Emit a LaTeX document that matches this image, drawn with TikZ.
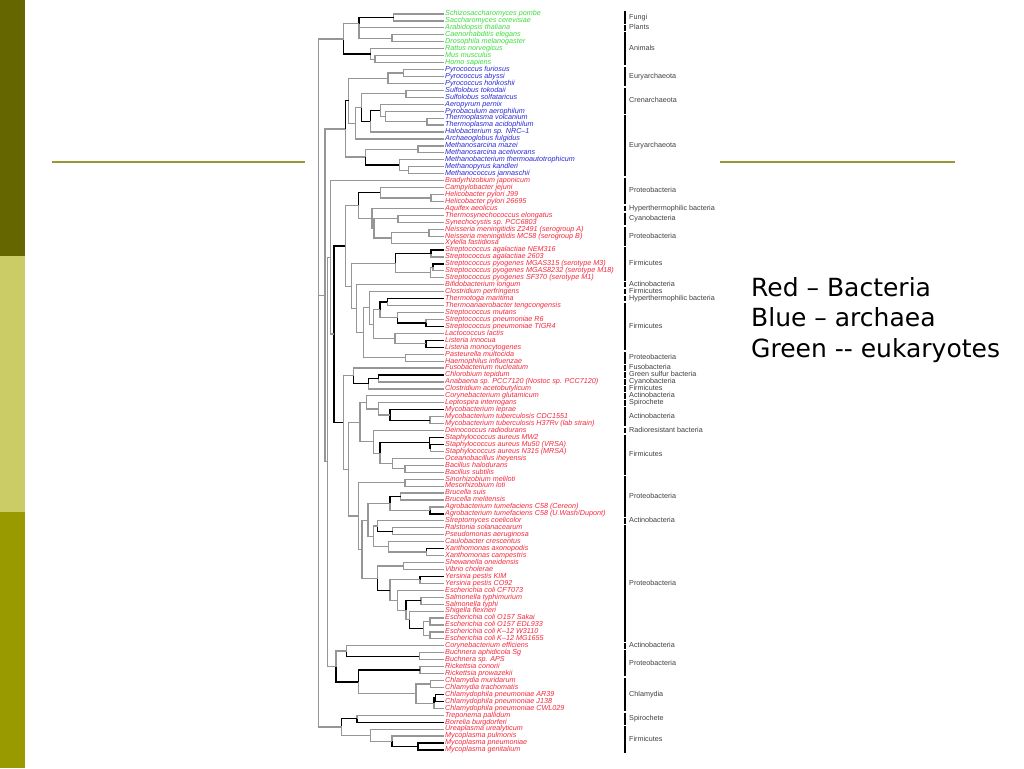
\documentclass[tikz,border=0pt]{standalone}
\usepackage{fontspec}
\newfontfamily\lab{Liberation Sans}
\newfontfamily\dv{DejaVu Sans}
\definecolor{gG}{RGB}{60,220,60}
\definecolor{bB}{RGB}{40,40,215}
\definecolor{rR}{RGB}{245,40,60}
\definecolor{lgray}{RGB}{150,150,150}
\definecolor{olD}{RGB}{102,102,0}
\definecolor{olL}{RGB}{204,204,102}
\definecolor{olM}{RGB}{153,153,0}
\definecolor{olLine}{RGB}{153,153,51}
\newcommand{\ly}[1]{14+(#1-1)*6.943}
\newcommand{\ed}[3]{\draw[#1] (#2) |- (#3);}
\begin{document}
\begin{tikzpicture}[x=1pt,y=-1pt,
 g/.style={draw=lgray,line width=1.2pt},
 k/.style={draw=black,line width=1.3pt},
 lf/.style={anchor=west,inner xsep=1pt,inner ysep=0pt,text height=5.2pt,text depth=1.5pt,font=\lab\itshape\fontsize{7.2}{7.2}\selectfont},
 lg/.style={lf,text=gG}, lb/.style={lf,text=bB}, lr/.style={lf,text=rR},
 grp/.style={anchor=west,inner sep=0pt,text height=5.2pt,text depth=1.5pt,font=\lab\fontsize{7.2}{7.2}\selectfont,text=black!75},
 bar/.style={line width=2pt,black},
 big/.style={anchor=base west,inner sep=0pt,font=\dv\fontsize{25}{30}\selectfont},
 deco/.style={draw=olLine,line width=2pt}]
\fill[white] (0,0) rectangle (1024,768);
\useasboundingbox (0,0) rectangle (1024,768);
% slide decoration
\fill[olD] (0,0) rectangle (25,256);
\fill[olL] (0,256) rectangle (25,512);
\fill[olM] (0,512) rectangle (25,768);
\draw[deco] (52,161.5) -- (305,161.5);
\draw[deco] (720,161.5) -- (955,161.5);
% legend text
\node[big] (t1) at (751,296) {Red – Bacteria};
\node[big] (t2) at (751,326.5) {Blue – archaea};
\node[big] (t3) at (751,357) {Green -{}- eukaryotes};
% leaves
\node[lg] (l1) at (444,{\ly{1}}) {Schizosaccharomyces pombe};
\node[lg] (l2) at (444,{\ly{2}}) {Saccharomyces cerevisiae};
\node[lg] (l3) at (444,{\ly{3}}) {Arabidopsis thaliana};
\node[lg] (l4) at (444,{\ly{4}}) {Caenorhabditis elegans};
\node[lg] (l5) at (444,{\ly{5}}) {Drosophila melanogaster};
\node[lg] (l6) at (444,{\ly{6}}) {Rattus norvegicus};
\node[lg] (l7) at (444,{\ly{7}}) {Mus musculus};
\node[lg] (l8) at (444,{\ly{8}}) {Homo sapiens};
\node[lb] (l9) at (444,{\ly{9}}) {Pyrococcus furiosus};
\node[lb] (l10) at (444,{\ly{10}}) {Pyrococcus abyssi};
\node[lb] (l11) at (444,{\ly{11}}) {Pyrococcus horikoshii};
\node[lb] (l12) at (444,{\ly{12}}) {Sulfolobus tokodaii};
\node[lb] (l13) at (444,{\ly{13}}) {Sulfolobus solfataricus};
\node[lb] (l14) at (444,{\ly{14}}) {Aeropyrum pernix};
\node[lb] (l15) at (444,{\ly{15}}) {Pyrobaculum aerophilum};
\node[lb] (l16) at (444,{\ly{16}}) {Thermoplasma volcanium};
\node[lb] (l17) at (444,{\ly{17}}) {Thermoplasma acidophilum};
\node[lb] (l18) at (444,{\ly{18}}) {Halobacterium sp. NRC–1};
\node[lb] (l19) at (444,{\ly{19}}) {Archaeoglobus fulgidus};
\node[lb] (l20) at (444,{\ly{20}}) {Methanosarcina mazei};
\node[lb] (l21) at (444,{\ly{21}}) {Methanosarcina acetivorans};
\node[lb] (l22) at (444,{\ly{22}}) {Methanobacterium thermoautotrophicum};
\node[lb] (l23) at (444,{\ly{23}}) {Methanopyrus kandleri};
\node[lb] (l24) at (444,{\ly{24}}) {Methanococcus jannaschii};
\node[lr] (l25) at (444,{\ly{25}}) {Bradyrhizobium japonicum};
\node[lr] (l26) at (444,{\ly{26}}) {Campylobacter jejuni};
\node[lr] (l27) at (444,{\ly{27}}) {Helicobacter pylori J99};
\node[lr] (l28) at (444,{\ly{28}}) {Helicobacter pylori 26695};
\node[lr] (l29) at (444,{\ly{29}}) {Aquifex aeolicus};
\node[lr] (l30) at (444,{\ly{30}}) {Thermosynechococcus elongatus};
\node[lr] (l31) at (444,{\ly{31}}) {Synechocystis sp. PCC6803};
\node[lr] (l32) at (444,{\ly{32}}) {Neisseria meningitidis Z2491 (serogroup A)};
\node[lr] (l33) at (444,{\ly{33}}) {Neisseria meningitidis MC58 (serogroup B)};
\node[lr] (l34) at (444,{\ly{34}}) {Xylella fastidiosa};
\node[lr] (l35) at (444,{\ly{35}}) {Streptococcus agalactiae NEM316};
\node[lr] (l36) at (444,{\ly{36}}) {Streptococcus agalactiae 2603};
\node[lr] (l37) at (444,{\ly{37}}) {Streptococcus pyogenes MGAS315 (serotype M3)};
\node[lr] (l38) at (444,{\ly{38}}) {Streptococcus pyogenes MGAS8232 (serotype M18)};
\node[lr] (l39) at (444,{\ly{39}}) {Streptococcus pyogenes SF370 (serotype M1)};
\node[lr] (l40) at (444,{\ly{40}}) {Bifidobacterium longum};
\node[lr] (l41) at (444,{\ly{41}}) {Clostridium perfringens};
\node[lr] (l42) at (444,{\ly{42}}) {Thermotoga maritima};
\node[lr] (l43) at (444,{\ly{43}}) {Thermoanaerobacter tengcongensis};
\node[lr] (l44) at (444,{\ly{44}}) {Streptococcus mutans};
\node[lr] (l45) at (444,{\ly{45}}) {Streptococcus pneumoniae R6};
\node[lr] (l46) at (444,{\ly{46}}) {Streptococcus pneumoniae TIGR4};
\node[lr] (l47) at (444,{\ly{47}}) {Lactococcus lactis};
\node[lr] (l48) at (444,{\ly{48}}) {Listeria innocua};
\node[lr] (l49) at (444,{\ly{49}}) {Listeria monocytogenes};
\node[lr] (l50) at (444,{\ly{50}}) {Pasteurella multocida};
\node[lr] (l51) at (444,{\ly{51}}) {Haemophilus influenzae};
\node[lr] (l52) at (444,{\ly{52}}) {Fusobacterium nucleatum};
\node[lr] (l53) at (444,{\ly{53}}) {Chlorobium tepidum};
\node[lr] (l54) at (444,{\ly{54}}) {Anabaena sp. PCC7120 (Nostoc sp. PCC7120)};
\node[lr] (l55) at (444,{\ly{55}}) {Clostridium acetobutylicum};
\node[lr] (l56) at (444,{\ly{56}}) {Corynebacterium glutamicum};
\node[lr] (l57) at (444,{\ly{57}}) {Leptospira interrogans};
\node[lr] (l58) at (444,{\ly{58}}) {Mycobacterium leprae};
\node[lr] (l59) at (444,{\ly{59}}) {Mycobacterium tuberculosis CDC1551};
\node[lr] (l60) at (444,{\ly{60}}) {Mycobacterium tuberculosis H37Rv (lab strain)};
\node[lr] (l61) at (444,{\ly{61}}) {Deinococcus radiodurans};
\node[lr] (l62) at (444,{\ly{62}}) {Staphylococcus aureus MW2};
\node[lr] (l63) at (444,{\ly{63}}) {Staphylococcus aureus Mu50 (VRSA)};
\node[lr] (l64) at (444,{\ly{64}}) {Staphylococcus aureus N315 (MRSA)};
\node[lr] (l65) at (444,{\ly{65}}) {Oceanobacillus iheyensis};
\node[lr] (l66) at (444,{\ly{66}}) {Bacillus halodurans};
\node[lr] (l67) at (444,{\ly{67}}) {Bacillus subtilis};
\node[lr] (l68) at (444,{\ly{68}}) {Sinorhizobium meliloti};
\node[lr] (l69) at (444,{\ly{69}}) {Mesorhizobium loti};
\node[lr] (l70) at (444,{\ly{70}}) {Brucella suis};
\node[lr] (l71) at (444,{\ly{71}}) {Brucella melitensis};
\node[lr] (l72) at (444,{\ly{72}}) {Agrobacterium tumefaciens C58 (Cereon)};
\node[lr] (l73) at (444,{\ly{73}}) {Agrobacterium tumefaciens C58 (U.Wash/Dupont)};
\node[lr] (l74) at (444,{\ly{74}}) {Streptomyces coelicolor};
\node[lr] (l75) at (444,{\ly{75}}) {Ralstonia solanacearum};
\node[lr] (l76) at (444,{\ly{76}}) {Pseudomonas aeruginosa};
\node[lr] (l77) at (444,{\ly{77}}) {Caulobacter crescentus};
\node[lr] (l78) at (444,{\ly{78}}) {Xanthomonas axonopodis};
\node[lr] (l79) at (444,{\ly{79}}) {Xanthomonas campestris};
\node[lr] (l80) at (444,{\ly{80}}) {Shewanella oneidensis};
\node[lr] (l81) at (444,{\ly{81}}) {Vibrio cholerae};
\node[lr] (l82) at (444,{\ly{82}}) {Yersinia pestis KIM};
\node[lr] (l83) at (444,{\ly{83}}) {Yersinia pestis CO92};
\node[lr] (l84) at (444,{\ly{84}}) {Escherichia coli CFT073};
\node[lr] (l85) at (444,{\ly{85}}) {Salmonella typhimurium};
\node[lr] (l86) at (444,{\ly{86}}) {Salmonella typhi};
\node[lr] (l87) at (444,{\ly{87}}) {Shigella flexneri};
\node[lr] (l88) at (444,{\ly{88}}) {Escherichia coli O157 Sakai};
\node[lr] (l89) at (444,{\ly{89}}) {Escherichia coli O157 EDL933};
\node[lr] (l90) at (444,{\ly{90}}) {Escherichia coli K–12 W3110};
\node[lr] (l91) at (444,{\ly{91}}) {Escherichia coli K–12 MG1655};
\node[lr] (l92) at (444,{\ly{92}}) {Corynebacterium efficiens};
\node[lr] (l93) at (444,{\ly{93}}) {Buchnera aphidicola Sg};
\node[lr] (l94) at (444,{\ly{94}}) {Buchnera sp. APS};
\node[lr] (l95) at (444,{\ly{95}}) {Rickettsia conorii};
\node[lr] (l96) at (444,{\ly{96}}) {Rickettsia prowazekii};
\node[lr] (l97) at (444,{\ly{97}}) {Chlamydia muridarum};
\node[lr] (l98) at (444,{\ly{98}}) {Chlamydia trachomatis};
\node[lr] (l99) at (444,{\ly{99}}) {Chlamydophila pneumoniae AR39};
\node[lr] (l100) at (444,{\ly{100}}) {Chlamydophila pneumoniae J138};
\node[lr] (l101) at (444,{\ly{101}}) {Chlamydophila pneumoniae CWL029};
\node[lr] (l102) at (444,{\ly{102}}) {Treponema pallidum};
\node[lr] (l103) at (444,{\ly{103}}) {Borrelia burgdorferi};
\node[lr] (l104) at (444,{\ly{104}}) {Ureaplasma urealyticum};
\node[lr] (l105) at (444,{\ly{105}}) {Mycoplasma pulmonis};
\node[lr] (l106) at (444,{\ly{106}}) {Mycoplasma pneumoniae};
\node[lr] (l107) at (444,{\ly{107}}) {Mycoplasma genitalium};
% internal nodes: eukaryotes
\coordinate (F) at (393.5,{\ly{1.5}});
\coordinate (CD) at (392,{\ly{4.5}});
\coordinate (MH) at (375,{\ly{7.5}});
\coordinate (RMH) at (370.5,{\ly{6.75}});
\coordinate (E1) at (359,{\ly{2.4}});
\coordinate (E) at (343.7,{\ly{4.6}});
% archaea
\coordinate (P1) at (403.5,{\ly{9.5}});
\coordinate (P2) at (388,{\ly{10.25}});
\coordinate (S) at (406,{\ly{12.5}});
\coordinate (T) at (427,{\ly{16.5}});
\coordinate (PT) at (385.3,{\ly{15.75}});
\coordinate (APT) at (380.3,{\ly{14.9}});
\coordinate (APTH) at (370.3,{\ly{16.45}});
\coordinate (CR) at (361.3,{\ly{14.5}});
\coordinate (CA) at (355.3,{\ly{16.75}});
\coordinate (PCA) at (348.7,{\ly{13.5}});
\coordinate (MS) at (418,{\ly{20.5}});
\coordinate (MK) at (408.7,{\ly{23.5}});
\coordinate (MBK) at (399.3,{\ly{22.75}});
\coordinate (MET) at (365.3,{\ly{21.6}});
\coordinate (ARCH) at (345.3,{\ly{17.55}});
% bacteria 1
\coordinate (H) at (431,{\ly{27.5}});
\coordinate (CH) at (380.3,{\ly{26.75}});
\coordinate (CY) at (398,{\ly{30.5}});
\coordinate (N) at (429,{\ly{32.5}});
\coordinate (NX) at (391.3,{\ly{33.25}});
\coordinate (CN) at (374,{\ly{31.9}});
\coordinate (ACN) at (372,{\ly{30.45}});
\coordinate (P) at (358.7,{\ly{28.6}});
\coordinate (SA) at (431,{\ly{35.5}});
\coordinate (SP1) at (433,{\ly{37.5}});
\coordinate (SP) at (430.5,{\ly{38.25}});
\coordinate (ST) at (395.3,{\ly{36.9}});
\coordinate (TT) at (387.3,{\ly{42.5}});
\coordinate (SPN) at (426,{\ly{45.5}});
\coordinate (SM2) at (397.3,{\ly{44.75}});
\coordinate (TTS) at (380,{\ly{43.6}});
\coordinate (LI) at (426,{\ly{48.5}});
\coordinate (LL) at (395,{\ly{47.75}});
\coordinate (C5a) at (373.3,{\ly{45.7}});
\coordinate (C5b) at (369.3,{\ly{43.3}});
\coordinate (PH) at (405.7,{\ly{50.5}});
\coordinate (C5c) at (363.3,{\ly{46.9}});
\coordinate (BF) at (356.7,{\ly{43.45}});
\coordinate (SBF) at (351.7,{\ly{40.2}});
\coordinate (Q) at (345.3,{\ly{34.4}});
% bacteria 2
\coordinate (CA2) at (378.3,{\ly{53.5}});
\coordinate (CAC) at (368.3,{\ly{54.25}});
\coordinate (FCC) at (353.3,{\ly{53.1}});
\coordinate (MT) at (430,{\ly{59.5}});
\coordinate (ML) at (390,{\ly{58.75}});
\coordinate (LM) at (378.3,{\ly{57.9}});
\coordinate (CLM) at (366.7,{\ly{56.95}});
\coordinate (SA2) at (430.7,{\ly{63.5}});
\coordinate (SA3) at (429.3,{\ly{62.75}});
\coordinate (BH) at (405,{\ly{66.5}});
\coordinate (OB) at (392.7,{\ly{65.75}});
\coordinate (SOB) at (380,{\ly{64.25}});
\coordinate (DSOB) at (373.3,{\ly{62.6}});
\coordinate (X) at (360,{\ly{59.8}});
\coordinate (SMe) at (405,{\ly{68.5}});
\coordinate (BR2) at (400.7,{\ly{70.5}});
\coordinate (AG) at (430,{\ly{72.5}});
\coordinate (BA) at (390,{\ly{71.5}});
\coordinate (RP) at (392.7,{\ly{75.5}});
\coordinate (SRP) at (377.7,{\ly{74.75}});
\coordinate (XA) at (426.7,{\ly{78.5}});
\coordinate (CX) at (388.3,{\ly{77.75}});
\coordinate (SRPCX) at (373.3,{\ly{76.25}});
\coordinate (A2) at (368,{\ly{73.9}});
\coordinate (SV) at (403.3,{\ly{80.5}});
\coordinate (YP) at (420,{\ly{82.5}});
\coordinate (SAL) at (421,{\ly{85.5}});
\coordinate (EO) at (430,{\ly{88.5}});
\coordinate (EK) at (430,{\ly{90.5}});
\coordinate (EC) at (423.3,{\ly{89.5}});
\coordinate (SEC) at (409.3,{\ly{88.25}});
\coordinate (SS) at (406,{\ly{86.9}});
\coordinate (CSS) at (397.3,{\ly{85.45}});
\coordinate (YCSS) at (390,{\ly{84}});
\coordinate (SVY) at (377.7,{\ly{82.25}});
\coordinate (A3) at (362,{\ly{78.1}});
\coordinate (A1) at (358.3,{\ly{73.3}});
\coordinate (N1) at (348.7,{\ly{66.55}});
\coordinate (N2) at (343.3,{\ly{59.8}});
\coordinate (K) at (334,{\ly{47.1}});
\coordinate (BRN) at (330.5,{\ly{36.05}});
% bacteria 3
\coordinate (BU) at (419.3,{\ly{93.5}});
\coordinate (CB) at (346.7,{\ly{92.75}});
\coordinate (RI) at (420,{\ly{95.5}});
\coordinate (CM) at (430.7,{\ly{97.5}});
\coordinate (CP1) at (435.7,{\ly{99.5}});
\coordinate (CP) at (434,{\ly{100.25}});
\coordinate (CHL) at (416,{\ly{98.9}});
\coordinate (RCH) at (358.3,{\ly{97.2}});
\coordinate (CBR) at (336,{\ly{95}});
\coordinate (TB) at (357,{\ly{102.5}});
\coordinate (MPG) at (418,{\ly{106.5}});
\coordinate (MM2) at (392,{\ly{105.75}});
\coordinate (MY) at (370.3,{\ly{104.9}});
\coordinate (TM) at (341.7,{\ly{103.7}});
% top
\coordinate (AB2) at (327.5,{\ly{65.5}});
\coordinate (AB) at (325,{\ly{41.5}});
\coordinate (R) at (318.3,{\ly{54}});
% ---- edges ----
\ed{g}{F}{l1.west} \ed{g}{F}{l2.west}
\ed{g}{E1}{l3.west} \ed{g}{E1}{CD} \ed{k}{E1}{F}
\ed{g}{CD}{l4.west} \ed{g}{CD}{l5.west}
\ed{g}{MH}{l7.west} \ed{g}{MH}{l8.west}
\ed{g}{RMH}{l6.west} \ed{g}{RMH}{MH}
\ed{g}{E}{E1} \ed{k}{E}{RMH}
\ed{g}{P1}{l9.west} \ed{g}{P1}{l10.west}
\ed{g}{P2}{P1} \ed{g}{P2}{l11.west}
\ed{g}{S}{l12.west} \ed{g}{S}{l13.west}
\ed{g}{T}{l16.west} \ed{g}{T}{l17.west}
\ed{g}{PT}{l15.west} \ed{g}{PT}{T}
\ed{g}{APT}{l14.west} \ed{g}{APT}{PT}
\ed{g}{APTH}{l18.west} \ed{k}{APTH}{APT}
\ed{g}{CR}{S} \ed{k}{CR}{APTH}
\ed{g}{CA}{CR} \ed{g}{CA}{l19.west}
\ed{g}{PCA}{P2} \ed{g}{PCA}{CA}
\ed{g}{MS}{l20.west} \ed{g}{MS}{l21.west}
\ed{g}{MK}{l23.west} \ed{g}{MK}{l24.west}
\ed{g}{MBK}{l22.west} \ed{g}{MBK}{MK}
\ed{g}{MET}{MS} \ed{k}{MET}{MBK}
\ed{g}{ARCH}{MET} \ed{k}{ARCH}{PCA}
\ed{g}{H}{l27.west} \ed{g}{H}{l28.west}
\ed{g}{CH}{l26.west} \ed{g}{CH}{H}
\ed{g}{CY}{l30.west} \ed{g}{CY}{l31.west}
\ed{g}{N}{l32.west} \ed{g}{N}{l33.west}
\ed{g}{NX}{N} \ed{g}{NX}{l34.west}
\ed{g}{CN}{CY} \ed{g}{CN}{NX}
\ed{g}{ACN}{l29.west} \ed{g}{ACN}{CN}
\ed{k}{P}{CH} \ed{g}{P}{ACN}
\ed{k}{SA}{l35.west} \ed{g}{SA}{l36.west}
\ed{k}{SP1}{l37.west} \ed{g}{SP1}{l38.west}
\ed{g}{SP}{SP1} \ed{g}{SP}{l39.west}
\ed{k}{ST}{SA} \ed{g}{ST}{SP}
\ed{k}{TT}{l42.west} \ed{g}{TT}{l43.west}
\ed{g}{SPN}{l45.west} \ed{k}{SPN}{l46.west}
\ed{g}{SM2}{l44.west} \ed{k}{SM2}{SPN}
\ed{k}{TTS}{TT} \ed{g}{TTS}{SM2}
\ed{k}{LI}{l48.west} \ed{k}{LI}{l49.west}
\ed{g}{LL}{l47.west} \ed{g}{LL}{LI}
\ed{g}{C5a}{TTS} \ed{g}{C5a}{LL}
\ed{g}{C5b}{l41.west} \ed{g}{C5b}{C5a}
\ed{g}{PH}{l50.west} \ed{g}{PH}{l51.west}
\ed{g}{C5c}{C5b} \ed{g}{C5c}{PH}
\ed{g}{BF}{l40.west} \ed{g}{BF}{C5c}
\ed{g}{SBF}{ST} \ed{g}{SBF}{BF}
\ed{g}{Q}{P} \ed{g}{Q}{SBF}
\ed{k}{CA2}{l53.west} \ed{g}{CA2}{l54.west}
\ed{k}{CAC}{CA2} \ed{g}{CAC}{l55.west}
\ed{g}{FCC}{l52.west} \ed{k}{FCC}{CAC}
\ed{g}{MT}{l59.west} \ed{g}{MT}{l60.west}
\ed{k}{ML}{l58.west} \ed{k}{ML}{MT}
\ed{g}{LM}{l57.west} \ed{g}{LM}{ML}
\ed{g}{CLM}{l56.west} \ed{g}{CLM}{LM}
\ed{k}{SA2}{l63.west} \ed{g}{SA2}{l64.west}
\ed{k}{SA3}{l62.west} \ed{k}{SA3}{SA2}
\ed{g}{BH}{l66.west} \ed{g}{BH}{l67.west}
\ed{g}{OB}{l65.west} \ed{g}{OB}{BH}
\ed{k}{SOB}{SA3} \ed{g}{SOB}{OB}
\ed{g}{DSOB}{l61.west} \ed{g}{DSOB}{SOB}
\ed{g}{X}{CLM} \ed{g}{X}{DSOB}
\ed{g}{SMe}{l68.west} \ed{g}{SMe}{l69.west}
\ed{g}{BR2}{l70.west} \ed{g}{BR2}{l71.west}
\ed{g}{AG}{l72.west} \ed{k}{AG}{l73.west}
\ed{k}{BA}{BR2} \ed{g}{BA}{AG}
\ed{g}{RP}{l75.west} \ed{g}{RP}{l76.west}
\ed{g}{SRP}{l74.west} \ed{k}{SRP}{RP}
\ed{k}{XA}{l78.west} \ed{g}{XA}{l79.west}
\ed{g}{CX}{l77.west} \ed{g}{CX}{XA}
\ed{g}{SRPCX}{SRP} \ed{g}{SRPCX}{CX}
\ed{g}{A2}{BA} \ed{g}{A2}{SRPCX}
\ed{g}{SV}{l80.west} \ed{g}{SV}{l81.west}
\ed{k}{YP}{l82.west} \ed{g}{YP}{l83.west}
\ed{g}{SAL}{l85.west} \ed{g}{SAL}{l86.west}
\ed{g}{EO}{l88.west} \ed{g}{EO}{l89.west}
\ed{g}{EK}{l90.west} \ed{g}{EK}{l91.west}
\ed{g}{EC}{EO} \ed{g}{EC}{EK}
\ed{g}{SEC}{l87.west} \ed{k}{SEC}{EC}
\ed{k}{SS}{SAL} \ed{g}{SS}{SEC}
\ed{g}{CSS}{l84.west} \ed{g}{CSS}{SS}
\ed{g}{YCSS}{YP} \ed{g}{YCSS}{CSS}
\ed{g}{SVY}{SV} \ed{k}{SVY}{YCSS}
\ed{g}{A3}{A2} \ed{g}{A3}{SVY}
\ed{g}{A1}{SMe} \ed{g}{A1}{A3}
\ed{g}{N1}{X} \ed{g}{N1}{A1}
\ed{g}{N2}{FCC} \ed{g}{N2}{N1}
\ed{k}{K}{Q} \ed{k}{K}{N2}
\ed{g}{BRN}{l25.west} \ed{g}{BRN}{K}
\ed{g}{BU}{l93.west} \ed{g}{BU}{l94.west}
\ed{g}{CB}{l92.west} \ed{k}{CB}{BU}
\ed{g}{RI}{l95.west} \ed{g}{RI}{l96.west}
\ed{g}{CM}{l97.west} \ed{g}{CM}{l98.west}
\ed{k}{CP1}{l99.west} \ed{k}{CP1}{l100.west}
\ed{k}{CP}{CP1} \ed{g}{CP}{l101.west}
\ed{g}{CHL}{CM} \ed{g}{CHL}{CP}
\ed{k}{RCH}{RI} \ed{g}{RCH}{CHL}
\ed{g}{CBR}{CB} \ed{k}{CBR}{RCH}
\ed{g}{TB}{l102.west} \ed{k}{TB}{l103.west}
\ed{k}{MPG}{l106.west} \ed{k}{MPG}{l107.west}
\ed{g}{MM2}{l105.west} \ed{k}{MM2}{MPG}
\ed{g}{MY}{l104.west} \ed{g}{MY}{MM2}
\ed{k}{TM}{TB} \ed{g}{TM}{MY}
\ed{g}{AB2}{BRN} \ed{g}{AB2}{CBR}
\ed{g}{AB}{ARCH} \ed{g}{AB}{AB2}
\ed{g}{R}{E} \ed{g}{R}{AB} \ed{g}{R}{TM}
% ---- group bars and labels ----
\foreach \a/\b/\gt [count=\n] in {1/2/Fungi, 3/3/Plants, 4/8/Animals, 9/11/Euryarchaeota, 12/15/Crenarchaeota, 16/24/Euryarchaeota, 25/28/Proteobacteria, 29/29/Hyperthermophilic bacteria, 30/31/Cyanobacteria, 32/34/Proteobacteria, 35/39/Firmicutes, 40/40/Actinobacteria, 41/41/Firmicutes, 42/42/Hyperthermophilic bacteria, 43/49/Firmicutes, 50/51/Proteobacteria, 52/52/Fusobacteria, 53/53/Green sulfur bacteria, 54/54/Cyanobacteria, 55/55/Firmicutes, 56/56/Actinobacteria, 57/57/Spirochete, 58/60/Actinobacteria, 61/61/Radioresistant bacteria, 62/67/Firmicutes, 68/73/Proteobacteria, 74/74/Actinobacteria, 75/91/Proteobacteria, 92/92/Actinobacteria, 93/96/Proteobacteria, 97/101/Chlamydia, 102/103/Spirochete, 104/107/Firmicutes}{
  \draw[bar] (624.5,{\ly{\a}-2.7}) -- (624.5,{\ly{\b}+2.7});
  \node[grp] (g\n) at (629,{(\ly{\a}+\ly{\b})/2}) {\gt};
}
\end{tikzpicture}
\end{document}
